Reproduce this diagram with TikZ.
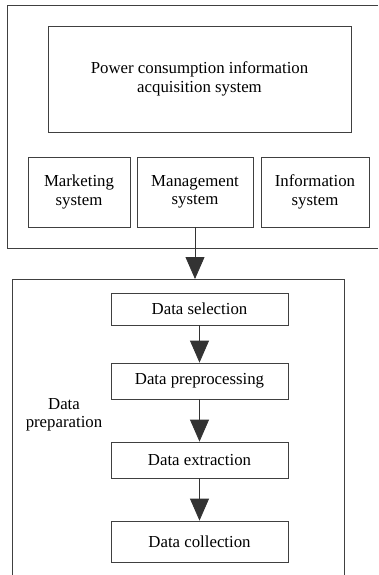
\documentclass[tikz,border=0pt]{standalone}
\usepackage{fontspec}
\setmainfont{Liberation Serif}
\usetikzlibrary{arrows.meta}
\begin{document}
\begin{tikzpicture}[x=1pt,y=-1pt,
  txt/.style={align=center,inner sep=0pt,font=\fontsize{16.8}{18.5}\selectfont},
  box/.style={txt,draw=black!75,line width=0.8pt},
  frame/.style={draw=black!75,line width=0.8pt},
  arr/.style={draw=black!80,line width=0.8pt,-{Triangle[width=19pt,length=22pt]}}]
\useasboundingbox (0,0) rectangle (378,575);
\draw[frame] (378,5) -- (7,5) -- (7,248) -- (378,248);
\draw[frame] (12,575) -- (12,279) -- (344,279) -- (344,575);
\node[box,minimum width=303pt,minimum height=106pt] (pcis) at (199.5,79) {Power consumption information\\acquisition system};
\node[box,minimum width=102pt,minimum height=70pt] (mkt) at (79,192) {Marketing\\system};
\node[box,minimum width=116pt,minimum height=70pt] (mgmt) at (195,192) {Management\\system};
\node[box,minimum width=108pt,minimum height=70pt] (info) at (315,192) {Information\\system};
\coordinate (prep) at (195,279);
\draw[arr] (mgmt.south) -- (prep);
\node[box,minimum width=177pt,minimum height=32pt] (sel) at (199.5,309) {Data selection};
\node[box,minimum width=177pt,minimum height=36pt] (pre) at (199.5,381) {Data preprocessing};
\node[box,minimum width=177pt,minimum height=36pt] (ext) at (199.5,460) {Data extraction};
\node[box,minimum width=177pt,minimum height=41pt] (col) at (199.5,541.5) {Data collection};
\node[txt] (lbl) at (64,415) {Data\\preparation};
\draw[arr] (sel.south) -- (pre.north);
\draw[arr] (pre.south) -- (ext.north);
\draw[arr] (ext.south) -- (col.north);
\end{tikzpicture}
\end{document}
